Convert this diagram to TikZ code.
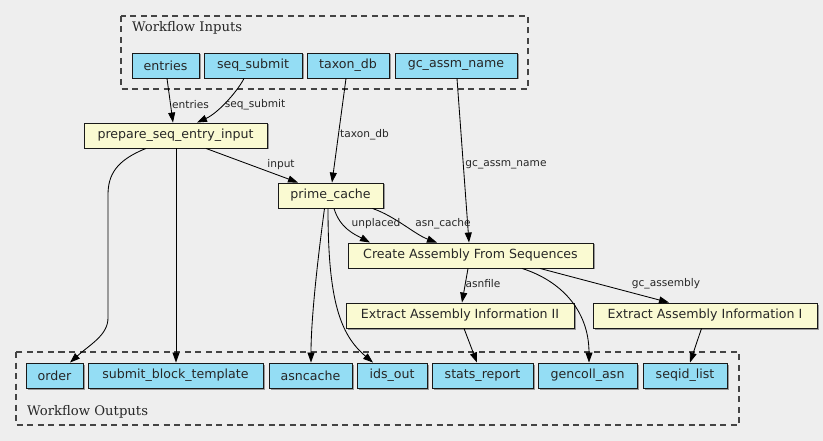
\documentclass[tikz,border=0pt]{standalone}
\usepackage{fontspec}
\setmainfont{DejaVu Sans}
\newfontfamily\titlefont{DejaVu Serif}
\usetikzlibrary{arrows.meta,shadows}
\definecolor{bgc}{HTML}{EEEEEE}
\definecolor{iofill}{HTML}{94DDF4}
\definecolor{stepfill}{HTML}{FAFAD2}
\definecolor{clustc}{HTML}{444444}
\tikzset{
  box/.style={draw=black!90, line width=0.9pt, inner sep=0pt, minimum height=25pt,
    font=\fontsize{12.6}{14}\selectfont, text=black!85,
    drop shadow={shadow xshift=1.5pt, shadow yshift=-1.5pt, fill=black!40, opacity=1}},
  io/.style={box, fill=iofill},
  stepbox/.style={box, fill=stepfill},
  cluster/.style={draw=clustc, line width=1.1pt, dash pattern=on 6pt off 4.5pt},
  ctitle/.style={font=\titlefont\fontsize{13.2}{15}\selectfont, text=black!85, anchor=west, inner sep=0pt},
  edge/.style={draw=black, line width=0.85pt, -{Triangle[length=10pt,width=7pt]}},
  elabel/.style={font=\fontsize{10.6}{12}\selectfont, text=black!85, inner sep=0pt}
}
\begin{document}
\begin{tikzpicture}[x=1pt,y=-1pt]
\fill[bgc] (0,0) rectangle (823,441);
\useasboundingbox (0,0) rectangle (823,441);
% clusters
\draw[cluster] (121,16) rectangle (528,89);
\node[ctitle] (tin) at (132,27.5) {Workflow Inputs};
\draw[cluster] (16,352) rectangle (739,425);
\node[ctitle] (tout) at (27,412) {Workflow Outputs};
% inputs
\node[io, minimum width=67pt] (entries) at (165.5,65.5) {entries};
\node[io, minimum width=98pt] (seqsub) at (253,65.5) {seq\_submit};
\node[io, minimum width=82pt] (taxon) at (348,65.5) {taxon\_db};
\node[io, minimum width=122pt] (gcname) at (456,65.5) {gc\_assm\_name};
% steps
\node[stepbox, minimum width=183pt] (prep) at (175.5,135.5) {prepare\_seq\_entry\_input};
\node[stepbox, minimum width=105pt] (prime) at (330.5,195.5) {prime\_cache};
\node[stepbox, minimum width=245pt] (create) at (470.5,255.5) {Create Assembly From Sequences};
\node[stepbox, minimum width=228pt] (ext2) at (460,315.5) {Extract Assembly Information II};
\node[stepbox, minimum width=224pt] (ext1) at (705,315.5) {Extract Assembly Information I};
% outputs
\node[io, minimum width=57pt] (order) at (54.5,375.5) {order};
\node[io, minimum width=175pt] (sbt) at (175.5,375.5) {submit\_block\_template};
\node[io, minimum width=83pt] (asncache) at (310.5,375.5) {asncache};
\node[io, minimum width=70pt] (idsout) at (392,375.5) {ids\_out};
\node[io, minimum width=101pt] (stats) at (482.5,375.5) {stats\_report};
\node[io, minimum width=99pt] (gencoll) at (587.5,375.5) {gencoll\_asn};
\node[io, minimum width=84pt] (seqid) at (685,375.5) {seqid\_list};
% edges
\draw[edge] ([xshift=1.5pt]entries.south) -- ([xshift=-2.5pt]prep.north);
\draw[edge] ([xshift=-9pt]seqsub.south) .. controls +(-6,12) and +(22,-10) .. ([xshift=21.5pt]prep.north);
\draw[edge] ([xshift=-2pt]taxon.south) -- ([xshift=1.5pt]prime.north);
\draw[edge] ([xshift=1pt]gcname.south) -- ([xshift=-1.5pt]create.north);
\draw[edge] ([xshift=30.5pt]prep.south) -- ([xshift=-32.5pt]prime.north);
\draw[edge] ([xshift=-29.5pt]prep.south) .. controls +(-30,12) and +(0,-20) .. (108,195) -- (108,318) .. controls +(0,17) and +(20,-18) .. ([xshift=15.5pt]order.north);
\draw[edge] ([xshift=0.5pt]prep.south) -- ([xshift=0.5pt]sbt.north);
\draw[edge] ([xshift=-6pt]prime.south) .. controls +(-7,52) and +(0,-43) .. ([xshift=0.5pt]asncache.north);
\draw[edge] ([xshift=-2.5pt]prime.south) .. controls +(0,92) and +(-33,-28) .. ([xshift=-19pt]idsout.north);
\draw[edge] ([xshift=3.5pt]prime.south) .. controls +(6,20) and +(-15,-8) .. ([xshift=-100.5pt]create.north);
\draw[edge] ([xshift=42pt]prime.south) .. controls +(23,8) and +(-22,-8) .. ([xshift=-33.5pt]create.north);
\draw[edge] ([xshift=-2.5pt]create.south) -- ([xshift=2pt]ext2.north);
\draw[edge] ([xshift=51.5pt]create.south) .. controls +(38,12) and +(0,-53) .. ([xshift=1.5pt]gencoll.north);
\draw[edge] ([xshift=69.5pt]create.south) -- ([xshift=-36pt]ext1.north);
\draw[edge] ([xshift=4pt]ext2.south) -- ([xshift=-5.5pt]stats.north);
\draw[edge] ([xshift=-3.5pt]ext1.south) -- ([xshift=5pt]seqid.north);
% labels
\node[elabel] (l1) at (190.5,105) {entries};
\node[elabel] (l2) at (255,105) {seq\_submit};
\node[elabel] (l3) at (364.5,135) {taxon\_db};
\node[elabel] (l4) at (506,165) {gc\_assm\_name};
\node[elabel] (l5) at (281,165) {input};
\node[elabel] (l6) at (376,224) {unplaced};
\node[elabel] (l7) at (443,224) {asn\_cache};
\node[elabel] (l8) at (483,284) {asnfile};
\node[elabel] (l9) at (666,284) {gc\_assembly};
\end{tikzpicture}
\end{document}
